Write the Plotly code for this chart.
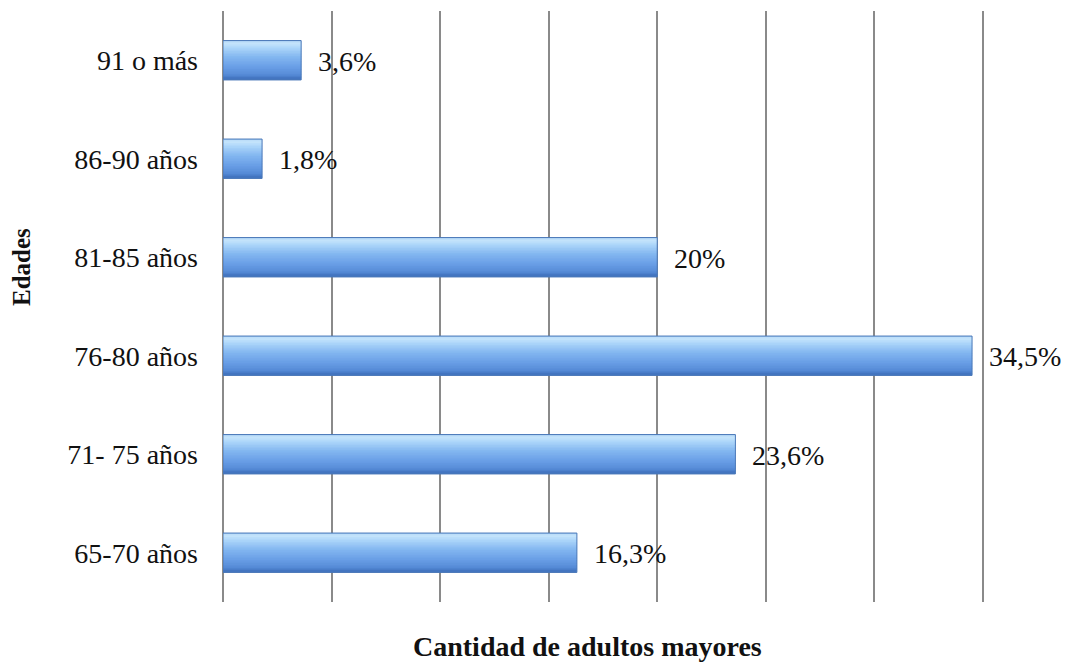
import plotly.graph_objects as go

categories = ["65-70 años", "71- 75 años", "76-80 años", "81-85 años", "86-90 años", "91 o más"]
values = [16.3, 23.6, 34.5, 20, 1.8, 3.6]
value_labels = ["16,3%", "23,6%", "34,5%", "20%", "1,8%", "3,6%"]
x_title = "Cantidad de adultos mayores"
y_title = "Edades"

FONT = "Liberation Serif"
BAR_W = 0.4

# colour stops (top -> bottom) of the bevelled bar gradient
stops = [(0.00, (150, 195, 240)), (0.08, (200, 230, 252)), (0.22, (170, 212, 249)),
         (0.45, (130, 182, 240)), (0.70, (105, 158, 230)), (0.90, (85, 138, 214)),
         (1.00, (62, 112, 186))]


def color_at(t):
    for (t0, c0), (t1, c1) in zip(stops[:-1], stops[1:]):
        if t0 <= t <= t1:
            f = (t - t0) / (t1 - t0) if t1 > t0 else 0
            r, g, b = (round(a + (b_ - a) * f) for a, b_ in zip(c0, c1))
            return f"rgb({r},{g},{b})"
    return "rgb(%d,%d,%d)" % stops[-1][1]


N = 24
sw = BAR_W / N
fig = go.Figure()
for i in range(N):
    t = (i + 0.5) / N
    bottom = BAR_W / 2 - (i + 1) * sw
    extra = 0 if i == 0 else sw * 0.6
    fig.add_trace(go.Bar(
        y=categories, x=values, orientation="h",
        width=sw + extra, offset=bottom,
        marker=dict(color=color_at(t), line=dict(width=0)),
        hoverinfo="skip", showlegend=False,
    ))
# outline of each bar
fig.add_trace(go.Bar(
    y=categories, x=values, orientation="h",
    width=BAR_W, offset=-BAR_W / 2,
    marker=dict(color="rgba(0,0,0,0)", line=dict(color="#4a78b8", width=1)),
    showlegend=False,
))

for cat, v, lab in zip(categories, values, value_labels):
    fig.add_annotation(x=v, y=cat, text=lab, showarrow=False,
                       xanchor="left", yanchor="middle", xshift=15, yshift=-1,
                       font=dict(family=FONT, size=28, color="#111111"))

fig.add_annotation(xref="paper", yref="paper", x=0.479, y=-0.075,
                   text="<b>" + x_title + "</b>", showarrow=False,
                   xanchor="center", yanchor="middle",
                   font=dict(family=FONT, size=28, color="#111111"))
fig.add_annotation(xref="paper", yref="paper", x=-0.264, y=0.567,
                   text="<b>" + y_title + "</b>", showarrow=False, textangle=-90,
                   xanchor="center", yanchor="middle",
                   font=dict(family=FONT, size=25, color="#111111"))

fig.update_layout(
    width=1082, height=666,
    margin=dict(l=215, r=106, t=3, b=72),
    barmode="overlay",
    plot_bgcolor="white", paper_bgcolor="white",
    font=dict(family=FONT, size=28, color="#111111"),
    xaxis=dict(range=[0, 35.05], dtick=5, tick0=0, showticklabels=False,
               showgrid=True, gridcolor="#8a8a8a", gridwidth=1.5,
               zeroline=True, zerolinecolor="#8a8a8a", zerolinewidth=1.5,
               showline=False, ticks=""),
    yaxis=dict(type="category", categoryorder="array", categoryarray=categories,
               showgrid=False, zeroline=False, showline=False, ticks="",
               ticklabelstandoff=24,
               tickfont=dict(family=FONT, size=28, color="#111111")),
)

fig.write_html("out.html")
